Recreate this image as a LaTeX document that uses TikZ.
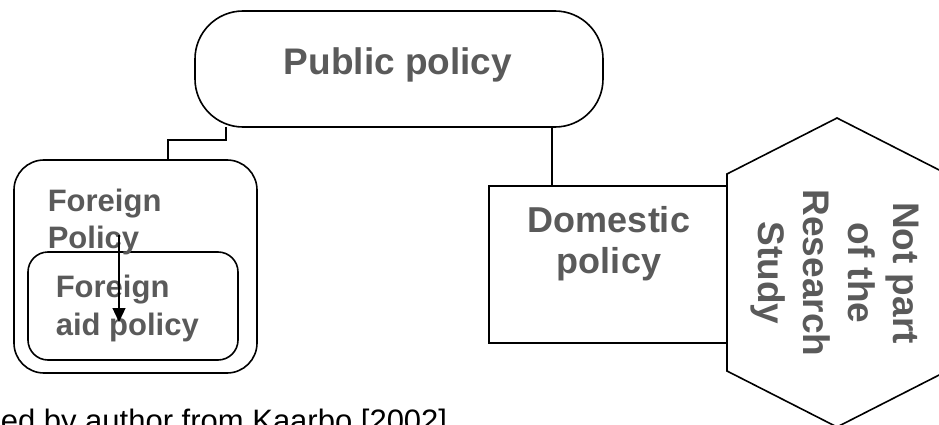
\documentclass[tikz,border=0pt]{standalone}
\usepackage{fontspec}
\setmainfont{Liberation Sans}
\usetikzlibrary{arrows.meta}
\definecolor{txtgray}{RGB}{90,90,90}

\begin{document}
\begin{tikzpicture}[x=1pt,y=-1pt,line width=1.6pt,
  box/.style={draw,rectangle,inner sep=0pt},
  lbl/.style={inner sep=0pt,text=txtgray},
  big/.style={font=\fontsize{37}{45}\selectfont\bfseries},
  mid/.style={font=\fontsize{31}{37}\selectfont\bfseries}]
   \useasboundingbox (0,0) rectangle (939,425);
   \node[box,rounded corners=48pt,minimum width=408pt,minimum height=116pt] (pp) at (399,69) {};
   \node[box,rounded corners=30pt,minimum width=243pt,minimum height=213pt] (fp) at (135.5,266.5) {};
   \node[box,rounded corners=20pt,minimum width=210pt,minimum height=108pt] (fap) at (133,306) {};
   \node[box,minimum width=238pt,minimum height=157pt] (dp) at (608,264.5) {};
   \draw (837,118) -- (947,174) -- (947,371) -- (837,427) -- (727,371) -- (727,174) -- cycle;
   \node[lbl,big,anchor=base] (pptext) at (398,75) {Public policy};
   \node[lbl,mid,anchor=north west,align=left] (fptext) at (47,188) {Foreign\\Policy};
   \node[lbl,mid,anchor=north west,align=left,font=\fontsize{31}{38}\selectfont\bfseries] (faptext) at (55,274) {Foreign\\aid policy};
   \node[lbl,anchor=north,align=center,font=\fontsize{36}{41}\selectfont\bfseries] (dptext) at (609,206) {Domestic\\policy};
   \node[lbl,big,rotate=-90,align=center] (nptext) at (835,273) {Not part\\of the\\Research\\Study};
   \node[inner sep=0pt,anchor=base west,font=\fontsize{31}{36}\selectfont] (src) at (0,431) {ed by author from Kaarbo [2002]};
   % connectors
   \coordinate (ppl) at (226,127);
   \coordinate (bendl) at (168,140);
   \coordinate (ppr) at (552,127);
   \draw (ppl) |- (bendl) -- (bendl |- fp.north);
   \draw (ppr) -- (ppr |- dp.north);
   \coordinate (arrtop) at (119,235);
   \coordinate (arrend) at (119,322);
   \draw[-{Triangle[length=14pt,width=13pt]},line width=1.3pt] (arrtop) -- (arrend);
\end{tikzpicture}
\end{document}
